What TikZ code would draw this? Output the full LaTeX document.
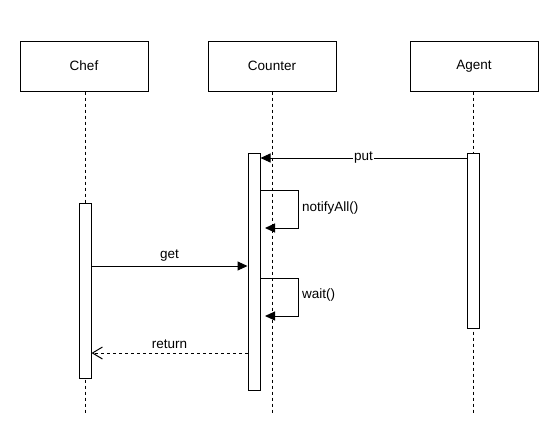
\documentclass[tikz,border=0pt]{standalone}
\usepackage{fontspec}
\setmainfont{Liberation Sans}
\usetikzlibrary{arrows.meta}
\begin{document}
\begin{tikzpicture}[x=1pt,y=-1pt,
  every node/.style={font=\fontsize{13.5}{16}\selectfont},
  head/.style={draw,line width=1pt,minimum width=128pt,minimum height=50pt,inner sep=0pt,fill=white},
  bar/.style={draw,line width=1pt,fill=white},
  life/.style={line width=1pt,dash pattern=on 3pt off 3pt},
  msg/.style={line width=1pt,-{Triangle[length=10pt,width=9pt]}},
  ret/.style={line width=1pt,dash pattern=on 3pt off 3pt,-{Straight Barb[length=10pt,width=12pt,line width=1pt]}},
  lbl/.style={inner sep=1pt}]
\useasboundingbox (0,0) rectangle (553,447);
% lifelines
\node[head] (chef) at (84,66) {Chef};
\node[head] (counter) at (272,66) {Counter};
\node[head] (agent) at (474,66) {Agent};
\coordinate (chefend) at (85,415);
\coordinate (counterend) at (272,415);
\coordinate (agentend) at (473,415);
\draw[life] (chef.south -| chefend) -- (chefend);
\draw[life] (counter.south -| counterend) -- (counterend);
\draw[life] (agent.south -| agentend) -- (agentend);
% activation bars
\node[bar,minimum width=12pt,minimum height=237pt,inner sep=0pt] (cbar) at (254,271.5) {};
\node[bar,minimum width=12pt,minimum height=175pt,inner sep=0pt] (hbar) at (85,290.5) {};
\node[bar,minimum width=12pt,minimum height=175pt,inner sep=0pt] (abar) at (473,240.5) {};
% put
\draw[msg] (abar.west |- 0,158) -- node[fill=white,lbl] {put} (cbar.east |- 0,158);
% notifyAll
\coordinate (n1) at (298,190);
\coordinate (n2) at (298,228);
\coordinate (n3) at (265,228);
\draw[msg] (cbar.east |- n1) -- (n1) -- (n2) -- (n3);
\node[anchor=west,lbl] (nlab) at (301,208) {notifyAll()};
% get
\draw[msg] (hbar.east |- 0,266) -- node[above=3pt,lbl] {get} (cbar.west |- 0,266);
% wait
\coordinate (w1) at (298,278);
\coordinate (w2) at (298,316);
\coordinate (w3) at (265,316);
\draw[msg] (cbar.east |- w1) -- (w1) -- (w2) -- (w3);
\node[anchor=west,lbl] (wlab) at (301,295) {wait()};
% return
\draw[ret] (cbar.west |- 0,353) -- node[above=3pt,lbl] {return} (hbar.east |- 0,353);
\end{tikzpicture}
\end{document}
